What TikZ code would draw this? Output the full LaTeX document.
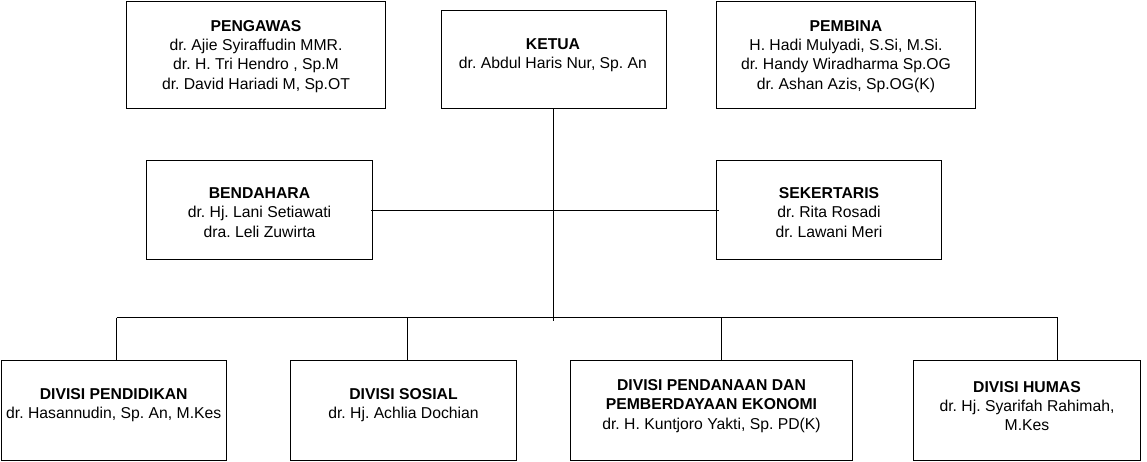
\documentclass[tikz,border=0pt]{standalone}
\usepackage{fontspec}
\setmainfont{Liberation Sans}
\frenchspacing
\begin{document}
\begin{tikzpicture}[x=0.75pt,y=-0.75pt,
  box/.style={draw=black, line width=0.75pt, rectangle, inner sep=0pt},
  txt/.style={align=center, font=\fontsize{11.8}{14.4}\selectfont\frenchspacing, inner sep=0pt, text=black},
  conn/.style={draw=black, line width=0.75pt}]
\useasboundingbox (0,0) rectangle (1147,461);

% boxes
\node[box, minimum width=194.25pt, minimum height=80.25pt] (pengawas) at (256,55) {};
\node[box, minimum width=168.75pt, minimum height=73.5pt] (ketua) at (553.5,59.5) {};
\node[box, minimum width=194.25pt, minimum height=80.25pt] (pembina) at (846,55) {};
\node[box, minimum width=169.5pt, minimum height=74.25pt] (bendahara) at (259.5,210) {};
\node[box, minimum width=168.75pt, minimum height=74.25pt] (sekertaris) at (829,210) {};
\node[box, minimum width=169.1pt, minimum height=75pt] (didik) at (113.75,410.5) {};
\node[box, minimum width=169.5pt, minimum height=75pt] (sosial) at (403.5,410.5) {};
\node[box, minimum width=211.5pt, minimum height=75pt] (dana) at (711.5,410.5) {};
\node[box, minimum width=170.25pt, minimum height=75pt] (humas) at (1027,410.5) {};

% texts
\node[txt] (pengawasT) at (256,56.5) {\textbf{PENGAWAS}\\dr. Ajie Syiraffudin MMR.\\dr. H. Tri Hendro , Sp.M\\dr. David Hariadi M, Sp.OT};
\node[txt] (ketuaT) at (553,55) {\textbf{KETUA}\\dr. Abdul Haris Nur, Sp. An};
\node[txt] (pembinaT) at (846,56.5) {\textbf{PEMBINA}\\H. Hadi Mulyadi, S.Si, M.Si.\\dr. Handy Wiradharma Sp.OG\\dr. Ashan Azis, Sp.OG(K)};
\node[txt] (bendaharaT) at (259.5,212.5) {\textbf{BENDAHARA}\\dr. Hj. Lani Setiawati\\dra. Leli Zuwirta};
\node[txt] (sekertarisT) at (829,212.5) {\textbf{SEKERTARIS}\\dr. Rita Rosadi\\dr. Lawani Meri};
\node[txt] (didikT) at (113.75,405) {\textbf{DIVISI PENDIDIKAN}\\dr. Hasannudin, Sp. An, M.Kes};
\node[txt] (sosialT) at (403.5,405) {\textbf{DIVISI SOSIAL}\\dr. Hj. Achlia Dochian};
\node[txt] (danaT) at (711.5,406) {\textbf{DIVISI PENDANAAN DAN}\\\textbf{PEMBERDAYAAN EKONOMI}\\dr. H. Kuntjoro Yakti, Sp. PD(K)};
\node[txt] (humasT) at (1027,406) {\textbf{DIVISI HUMAS}\\dr. Hj. Syarifah Rahimah,\\M.Kes};

% coordinates of the bus
\coordinate (ketuaEnd) at (ketua.south |- 0,320.5);
\coordinate (b1) at (116.5,317.5);
\coordinate (b2) at (407.5,317.5);
\coordinate (b3) at (721.5,317.5);
\coordinate (b4) at (1057.5,317.5);

% connectors
\draw[conn] ([xshift=-1.5pt]bendahara.east) -- ([xshift=2pt]sekertaris.west);
\draw[conn] (ketua.south) -- (ketuaEnd);
\draw[conn] (b1) -- (b4);
\draw[conn] (b1) -- (b1 |- didik.north);
\draw[conn] (b2) -- (b2 |- sosial.north);
\draw[conn] (b3) -- (b3 |- dana.north);
\draw[conn] (b4) -- (b4 |- humas.north);
\end{tikzpicture}
\end{document}
